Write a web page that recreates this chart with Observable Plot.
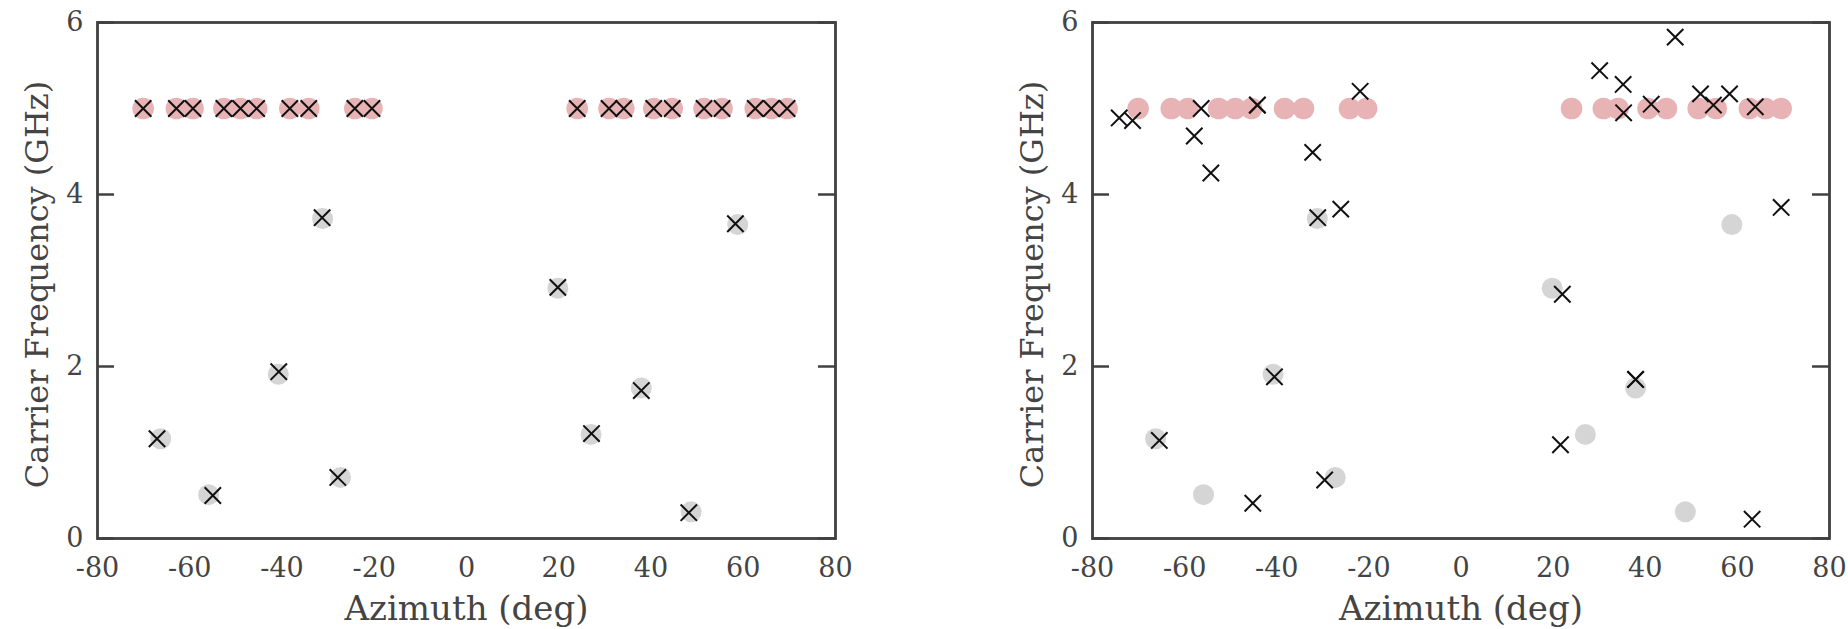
<!DOCTYPE html>
<html><head><meta charset="utf-8">
<script src="https://cdn.jsdelivr.net/npm/d3@7"></script>
<script src="https://cdn.jsdelivr.net/npm/@observablehq/plot@0.6"></script>
<style>
html,body{margin:0;padding:0;background:#fff;}
#wrap{position:relative;width:1848px;height:629px;display:flex;}
#wrap svg{display:block;}
</style></head><body><div id="wrap"></div>
<script>
// ---- axes ----
const xTicks = [-80, -60, -40, -20, 0, 20, 40, 60, 80];
const yTicks = [0, 2, 4, 6];
const xLabel = "Azimuth (deg)";
const yLabel = "Carrier Frequency (GHz)";

// ---- ground truth (pink: 5 GHz emitters, gray: other emitters) ----
const trueHighAz = [-70.1, -62.9, -59.3, -52.6, -49.0, -45.5, -38.3, -34.2, -24.2, -20.5,
                    24.0, 30.9, 34.1, 40.6, 44.6, 51.5, 55.4, 62.6, 66.1, 69.5];
const trueHighFreq = [5, 5, 5, 5, 5, 5, 5, 5, 5, 5, 5, 5, 5, 5, 5, 5, 5, 5, 5, 5];
const trueLowAz = [-66.3, -55.9, -40.8, -31.2, -27.3, 19.8, 27.0, 37.9, 48.7, 58.8];
const trueLowFreq = [1.16, 0.51, 1.91, 3.72, 0.71, 2.91, 1.21, 1.75, 0.31, 3.65];

// ---- estimates, left panel ----
const leftEstAz = [-70.1, -62.9, -59.3, -52.6, -49.0, -45.5, -38.3, -34.2, -24.2, -20.5,
                   24.0, 30.9, 34.1, 40.6, 44.6, 51.5, 55.4, 62.6, 66.1, 69.5,
                   -67.1, -55.0, -40.7, -31.3, -27.9, 19.8, 27.1, 37.9, 48.2, 58.3];
const leftEstFreq = [5, 5, 5, 5, 5, 5, 5, 5, 5, 5, 5, 5, 5, 5, 5, 5, 5, 5, 5, 5,
                     1.16, 0.50, 1.94, 3.73, 0.71, 2.92, 1.22, 1.72, 0.30, 3.66];

// ---- estimates, right panel ----
const rightEstAz = [-74.2, -71.3, -56.4, -57.9, -54.3, -44.2, -44.2, -32.2, -31.1, -26.1, -21.9,
                    30.1, 35.2, 35.3, 41.3, 46.5, 52.0, 54.8, 58.3, 63.9, 69.5, 22.0,
                    -65.5, -45.2, -40.5, -29.6, 37.9, 37.9, 21.6, 63.2];
const rightEstFreq = [4.89, 4.86, 5.00, 4.68, 4.25, 5.04, 5.04, 4.49, 3.73, 3.83, 5.20,
                      5.44, 5.28, 4.95, 5.05, 5.83, 5.17, 5.04, 5.17, 5.02, 3.85, 2.84,
                      1.14, 0.41, 1.88, 0.68, 1.85, 1.85, 1.09, 0.225];

const pink = "#e8b3b5";
const gray = "#d5d5d5";
const axisColor = "#404040";
const textColor = "#444";

const toPts = (az, f) => az.map((a, i) => ({az: a, f: f[i]}));
const truthHigh = toPts(trueHighAz, trueHighFreq);
const truthLow = toPts(trueLowAz, trueLowFreq);

function panel(estAz, estFreq, marginLeft, marginRight) {
  const width = 924, height = 629, marginTop = 22, marginBottom = 91;
  const plotW = width - marginLeft - marginRight;
  const tickPx = 17;
  const xDom = [xTicks[0], xTicks[xTicks.length - 1]];
  const tickDeg = tickPx * (xDom[1] - xDom[0]) / plotW;
  const est = toPts(estAz, estFreq);
  return Plot.plot({
    width, height, marginLeft, marginRight, marginTop, marginBottom,
    style: {fontFamily: "'DejaVu Serif', serif", fontSize: "27px", color: textColor, background: "#fff", overflow: "visible"},
    x: {domain: xDom, ticks: xTicks},
    y: {domain: [yTicks[0], yTicks[yTicks.length - 1]], ticks: yTicks},
    marks: [
      Plot.dot(truthHigh, {x: "az", y: "f", r: 10.8, fill: pink, stroke: "none"}),
      Plot.dot(truthLow, {x: "az", y: "f", r: 10.5, fill: gray, stroke: "none"}),
      Plot.dot(est, {x: "az", y: "f", symbol: "times", r: 7.5, stroke: "#111", strokeWidth: 2}),
      Plot.ruleY(yTicks, {y: d => d, x1: xDom[0], x2: xDom[0] + tickDeg, stroke: axisColor, strokeWidth: 2.5}),
      Plot.ruleY(yTicks, {y: d => d, x1: xDom[1] - tickDeg, x2: xDom[1], stroke: axisColor, strokeWidth: 2.5}),
      Plot.frame({stroke: axisColor, strokeWidth: 2.8}),
      Plot.axisX(xTicks, {tickSize: 0, tickPadding: 19, fontSize: 27, tickFormat: d => String(d), label: null, fill: textColor}),
      Plot.axisY(yTicks, {tickSize: 0, tickPadding: 14, fontSize: 27, tickFormat: d => String(d), label: null, fill: textColor}),
      Plot.text([xLabel], {text: d => d, frameAnchor: "bottom", textAnchor: "middle", dy: 71, fontSize: 34, lineAnchor: "middle", fill: textColor}),
      Plot.text([yLabel], {text: d => d, frameAnchor: "left", textAnchor: "middle", rotate: -90, dx: -60, dy: 4, fontSize: 32, lineAnchor: "middle", fill: textColor})
    ]
  });
}

const wrap = document.getElementById("wrap");
wrap.appendChild(panel(leftEstAz, leftEstFreq, 97, 89));
wrap.appendChild(panel(rightEstAz, rightEstFreq, 168, 19));
</script></body></html>
